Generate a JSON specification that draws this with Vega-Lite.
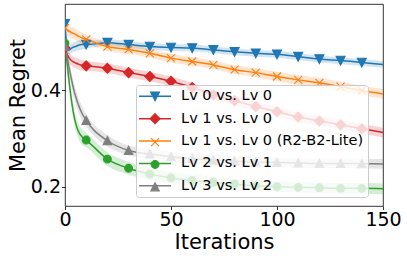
{
  "$schema": "https://vega.github.io/schema/vega-lite/v6.json",
  "width": 318,
  "height": 202,
  "autosize": {"type": "none"},
  "padding": {"left": 65, "top": 4, "right": 24, "bottom": 52},
  "background": "white",
  "config": {
    "view": {"stroke": "#000000", "strokeWidth": 0.8},
    "font": "DejaVu Sans",
    "axis": {
      "grid": false,
      "domain": false,
      "tickColor": "#000000",
      "tickWidth": 0.8,
      "tickSize": 3.5,
      "labelFont": "DejaVu Sans",
      "labelFontSize": 19,
      "labelColor": "#000000",
      "labelFlush": false,
      "labelPadding": 1,
      "titleFont": "DejaVu Sans",
      "titleFontSize": 21,
      "titleFontWeight": "normal",
      "titleColor": "#000000"
    }
  },
  "datasets": {
    "rows": [
      {"s": "Lv 0 vs. Lv 0", "x": 0, "y": 0.537, "lo": 0.523, "hi": 0.551},
      {"s": "Lv 0 vs. Lv 0", "x": 1, "y": 0.488, "lo": 0.476, "hi": 0.5},
      {"s": "Lv 0 vs. Lv 0", "x": 2, "y": 0.483, "lo": 0.473, "hi": 0.493},
      {"s": "Lv 0 vs. Lv 0", "x": 3, "y": 0.486, "lo": 0.476, "hi": 0.496},
      {"s": "Lv 0 vs. Lv 0", "x": 4, "y": 0.489, "lo": 0.479, "hi": 0.499},
      {"s": "Lv 0 vs. Lv 0", "x": 5, "y": 0.49, "lo": 0.48, "hi": 0.5},
      {"s": "Lv 0 vs. Lv 0", "x": 6, "y": 0.492, "lo": 0.482, "hi": 0.502},
      {"s": "Lv 0 vs. Lv 0", "x": 8, "y": 0.494, "lo": 0.484, "hi": 0.504},
      {"s": "Lv 0 vs. Lv 0", "x": 10, "y": 0.494, "lo": 0.486, "hi": 0.502},
      {"s": "Lv 0 vs. Lv 0", "x": 20, "y": 0.498, "lo": 0.491, "hi": 0.505},
      {"s": "Lv 0 vs. Lv 0", "x": 30, "y": 0.494, "lo": 0.487, "hi": 0.501},
      {"s": "Lv 0 vs. Lv 0", "x": 40, "y": 0.49, "lo": 0.483, "hi": 0.497},
      {"s": "Lv 0 vs. Lv 0", "x": 50, "y": 0.488, "lo": 0.481, "hi": 0.495},
      {"s": "Lv 0 vs. Lv 0", "x": 60, "y": 0.487, "lo": 0.48, "hi": 0.494},
      {"s": "Lv 0 vs. Lv 0", "x": 70, "y": 0.483, "lo": 0.476, "hi": 0.49},
      {"s": "Lv 0 vs. Lv 0", "x": 80, "y": 0.479, "lo": 0.472, "hi": 0.486},
      {"s": "Lv 0 vs. Lv 0", "x": 90, "y": 0.476, "lo": 0.469, "hi": 0.483},
      {"s": "Lv 0 vs. Lv 0", "x": 100, "y": 0.474, "lo": 0.467, "hi": 0.481},
      {"s": "Lv 0 vs. Lv 0", "x": 110, "y": 0.469, "lo": 0.462, "hi": 0.476},
      {"s": "Lv 0 vs. Lv 0", "x": 120, "y": 0.464, "lo": 0.457, "hi": 0.471},
      {"s": "Lv 0 vs. Lv 0", "x": 130, "y": 0.461, "lo": 0.454, "hi": 0.468},
      {"s": "Lv 0 vs. Lv 0", "x": 140, "y": 0.457, "lo": 0.45, "hi": 0.464},
      {"s": "Lv 0 vs. Lv 0", "x": 150, "y": 0.453, "lo": 0.446, "hi": 0.46},

      {"s": "Lv 1 vs. Lv 0", "x": 0, "y": 0.487, "lo": 0.475, "hi": 0.499},
      {"s": "Lv 1 vs. Lv 0", "x": 1, "y": 0.474, "lo": 0.463, "hi": 0.485},
      {"s": "Lv 1 vs. Lv 0", "x": 2, "y": 0.466, "lo": 0.455, "hi": 0.477},
      {"s": "Lv 1 vs. Lv 0", "x": 3, "y": 0.461, "lo": 0.45, "hi": 0.472},
      {"s": "Lv 1 vs. Lv 0", "x": 4, "y": 0.458, "lo": 0.447, "hi": 0.469},
      {"s": "Lv 1 vs. Lv 0", "x": 5, "y": 0.456, "lo": 0.445, "hi": 0.467},
      {"s": "Lv 1 vs. Lv 0", "x": 6, "y": 0.454, "lo": 0.443, "hi": 0.465},
      {"s": "Lv 1 vs. Lv 0", "x": 8, "y": 0.451, "lo": 0.44, "hi": 0.462},
      {"s": "Lv 1 vs. Lv 0", "x": 10, "y": 0.45, "lo": 0.44, "hi": 0.46},
      {"s": "Lv 1 vs. Lv 0", "x": 20, "y": 0.445, "lo": 0.435, "hi": 0.455},
      {"s": "Lv 1 vs. Lv 0", "x": 30, "y": 0.436, "lo": 0.426, "hi": 0.446},
      {"s": "Lv 1 vs. Lv 0", "x": 40, "y": 0.428, "lo": 0.418, "hi": 0.438},
      {"s": "Lv 1 vs. Lv 0", "x": 50, "y": 0.418, "lo": 0.408, "hi": 0.428},
      {"s": "Lv 1 vs. Lv 0", "x": 60, "y": 0.405, "lo": 0.395, "hi": 0.415},
      {"s": "Lv 1 vs. Lv 0", "x": 70, "y": 0.39, "lo": 0.38, "hi": 0.4},
      {"s": "Lv 1 vs. Lv 0", "x": 80, "y": 0.378, "lo": 0.368, "hi": 0.388},
      {"s": "Lv 1 vs. Lv 0", "x": 90, "y": 0.366, "lo": 0.356, "hi": 0.376},
      {"s": "Lv 1 vs. Lv 0", "x": 100, "y": 0.355, "lo": 0.345, "hi": 0.365},
      {"s": "Lv 1 vs. Lv 0", "x": 110, "y": 0.344, "lo": 0.334, "hi": 0.354},
      {"s": "Lv 1 vs. Lv 0", "x": 120, "y": 0.336, "lo": 0.326, "hi": 0.346},
      {"s": "Lv 1 vs. Lv 0", "x": 130, "y": 0.328, "lo": 0.318, "hi": 0.338},
      {"s": "Lv 1 vs. Lv 0", "x": 140, "y": 0.32, "lo": 0.31, "hi": 0.33},
      {"s": "Lv 1 vs. Lv 0", "x": 150, "y": 0.312, "lo": 0.302, "hi": 0.322},

      {"s": "Lv 1 vs. Lv 0 (R2-B2-Lite)", "x": 0, "y": 0.528, "lo": 0.514, "hi": 0.542},
      {"s": "Lv 1 vs. Lv 0 (R2-B2-Lite)", "x": 1, "y": 0.525, "lo": 0.513, "hi": 0.537},
      {"s": "Lv 1 vs. Lv 0 (R2-B2-Lite)", "x": 2, "y": 0.522, "lo": 0.51, "hi": 0.534},
      {"s": "Lv 1 vs. Lv 0 (R2-B2-Lite)", "x": 3, "y": 0.519, "lo": 0.507, "hi": 0.531},
      {"s": "Lv 1 vs. Lv 0 (R2-B2-Lite)", "x": 4, "y": 0.517, "lo": 0.505, "hi": 0.529},
      {"s": "Lv 1 vs. Lv 0 (R2-B2-Lite)", "x": 5, "y": 0.515, "lo": 0.503, "hi": 0.527},
      {"s": "Lv 1 vs. Lv 0 (R2-B2-Lite)", "x": 6, "y": 0.512, "lo": 0.5, "hi": 0.524},
      {"s": "Lv 1 vs. Lv 0 (R2-B2-Lite)", "x": 8, "y": 0.508, "lo": 0.497, "hi": 0.519},
      {"s": "Lv 1 vs. Lv 0 (R2-B2-Lite)", "x": 10, "y": 0.505, "lo": 0.495, "hi": 0.515},
      {"s": "Lv 1 vs. Lv 0 (R2-B2-Lite)", "x": 20, "y": 0.49, "lo": 0.481, "hi": 0.499},
      {"s": "Lv 1 vs. Lv 0 (R2-B2-Lite)", "x": 30, "y": 0.484, "lo": 0.475, "hi": 0.493},
      {"s": "Lv 1 vs. Lv 0 (R2-B2-Lite)", "x": 40, "y": 0.476, "lo": 0.467, "hi": 0.485},
      {"s": "Lv 1 vs. Lv 0 (R2-B2-Lite)", "x": 50, "y": 0.466, "lo": 0.457, "hi": 0.475},
      {"s": "Lv 1 vs. Lv 0 (R2-B2-Lite)", "x": 60, "y": 0.459, "lo": 0.45, "hi": 0.468},
      {"s": "Lv 1 vs. Lv 0 (R2-B2-Lite)", "x": 70, "y": 0.452, "lo": 0.443, "hi": 0.461},
      {"s": "Lv 1 vs. Lv 0 (R2-B2-Lite)", "x": 80, "y": 0.442, "lo": 0.433, "hi": 0.451},
      {"s": "Lv 1 vs. Lv 0 (R2-B2-Lite)", "x": 90, "y": 0.436, "lo": 0.427, "hi": 0.445},
      {"s": "Lv 1 vs. Lv 0 (R2-B2-Lite)", "x": 100, "y": 0.428, "lo": 0.418, "hi": 0.438},
      {"s": "Lv 1 vs. Lv 0 (R2-B2-Lite)", "x": 110, "y": 0.421, "lo": 0.411, "hi": 0.431},
      {"s": "Lv 1 vs. Lv 0 (R2-B2-Lite)", "x": 120, "y": 0.415, "lo": 0.405, "hi": 0.425},
      {"s": "Lv 1 vs. Lv 0 (R2-B2-Lite)", "x": 130, "y": 0.407, "lo": 0.397, "hi": 0.417},
      {"s": "Lv 1 vs. Lv 0 (R2-B2-Lite)", "x": 140, "y": 0.399, "lo": 0.389, "hi": 0.409},
      {"s": "Lv 1 vs. Lv 0 (R2-B2-Lite)", "x": 150, "y": 0.392, "lo": 0.382, "hi": 0.402},

      {"s": "Lv 2 vs. Lv 1", "x": 0, "y": 0.497, "lo": 0.485, "hi": 0.509},
      {"s": "Lv 2 vs. Lv 1", "x": 1, "y": 0.455, "lo": 0.439, "hi": 0.471},
      {"s": "Lv 2 vs. Lv 1", "x": 2, "y": 0.415, "lo": 0.399, "hi": 0.431},
      {"s": "Lv 2 vs. Lv 1", "x": 3, "y": 0.38, "lo": 0.364, "hi": 0.396},
      {"s": "Lv 2 vs. Lv 1", "x": 4, "y": 0.352, "lo": 0.336, "hi": 0.368},
      {"s": "Lv 2 vs. Lv 1", "x": 5, "y": 0.332, "lo": 0.316, "hi": 0.348},
      {"s": "Lv 2 vs. Lv 1", "x": 6, "y": 0.318, "lo": 0.302, "hi": 0.334},
      {"s": "Lv 2 vs. Lv 1", "x": 8, "y": 0.303, "lo": 0.287, "hi": 0.319},
      {"s": "Lv 2 vs. Lv 1", "x": 10, "y": 0.2965, "lo": 0.2815, "hi": 0.3115},
      {"s": "Lv 2 vs. Lv 1", "x": 20, "y": 0.257, "lo": 0.243, "hi": 0.271},
      {"s": "Lv 2 vs. Lv 1", "x": 30, "y": 0.238, "lo": 0.225, "hi": 0.251},
      {"s": "Lv 2 vs. Lv 1", "x": 40, "y": 0.226, "lo": 0.214, "hi": 0.238},
      {"s": "Lv 2 vs. Lv 1", "x": 50, "y": 0.218, "lo": 0.206, "hi": 0.23},
      {"s": "Lv 2 vs. Lv 1", "x": 60, "y": 0.213, "lo": 0.201, "hi": 0.225},
      {"s": "Lv 2 vs. Lv 1", "x": 70, "y": 0.209, "lo": 0.197, "hi": 0.221},
      {"s": "Lv 2 vs. Lv 1", "x": 80, "y": 0.205, "lo": 0.194, "hi": 0.216},
      {"s": "Lv 2 vs. Lv 1", "x": 90, "y": 0.202, "lo": 0.191, "hi": 0.213},
      {"s": "Lv 2 vs. Lv 1", "x": 100, "y": 0.2, "lo": 0.189, "hi": 0.211},
      {"s": "Lv 2 vs. Lv 1", "x": 110, "y": 0.1986, "lo": 0.1876, "hi": 0.2096},
      {"s": "Lv 2 vs. Lv 1", "x": 120, "y": 0.1977, "lo": 0.1867, "hi": 0.2087},
      {"s": "Lv 2 vs. Lv 1", "x": 130, "y": 0.1965, "lo": 0.1855, "hi": 0.2075},
      {"s": "Lv 2 vs. Lv 1", "x": 140, "y": 0.1965, "lo": 0.1855, "hi": 0.2075},
      {"s": "Lv 2 vs. Lv 1", "x": 150, "y": 0.1955, "lo": 0.1845, "hi": 0.2065},

      {"s": "Lv 3 vs. Lv 2", "x": 0, "y": 0.49, "lo": 0.478, "hi": 0.502},
      {"s": "Lv 3 vs. Lv 2", "x": 1, "y": 0.468, "lo": 0.453, "hi": 0.483},
      {"s": "Lv 3 vs. Lv 2", "x": 2, "y": 0.445, "lo": 0.43, "hi": 0.46},
      {"s": "Lv 3 vs. Lv 2", "x": 3, "y": 0.423, "lo": 0.408, "hi": 0.438},
      {"s": "Lv 3 vs. Lv 2", "x": 4, "y": 0.403, "lo": 0.388, "hi": 0.418},
      {"s": "Lv 3 vs. Lv 2", "x": 5, "y": 0.387, "lo": 0.372, "hi": 0.402},
      {"s": "Lv 3 vs. Lv 2", "x": 6, "y": 0.373, "lo": 0.358, "hi": 0.388},
      {"s": "Lv 3 vs. Lv 2", "x": 8, "y": 0.352, "lo": 0.337, "hi": 0.367},
      {"s": "Lv 3 vs. Lv 2", "x": 10, "y": 0.337, "lo": 0.324, "hi": 0.35},
      {"s": "Lv 3 vs. Lv 2", "x": 20, "y": 0.295, "lo": 0.283, "hi": 0.307},
      {"s": "Lv 3 vs. Lv 2", "x": 30, "y": 0.275, "lo": 0.265, "hi": 0.285},
      {"s": "Lv 3 vs. Lv 2", "x": 40, "y": 0.2675, "lo": 0.2575, "hi": 0.2775},
      {"s": "Lv 3 vs. Lv 2", "x": 50, "y": 0.262, "lo": 0.252, "hi": 0.272},
      {"s": "Lv 3 vs. Lv 2", "x": 60, "y": 0.258, "lo": 0.248, "hi": 0.268},
      {"s": "Lv 3 vs. Lv 2", "x": 70, "y": 0.255, "lo": 0.245, "hi": 0.265},
      {"s": "Lv 3 vs. Lv 2", "x": 80, "y": 0.253, "lo": 0.243, "hi": 0.263},
      {"s": "Lv 3 vs. Lv 2", "x": 90, "y": 0.251, "lo": 0.241, "hi": 0.261},
      {"s": "Lv 3 vs. Lv 2", "x": 100, "y": 0.25, "lo": 0.24, "hi": 0.26},
      {"s": "Lv 3 vs. Lv 2", "x": 110, "y": 0.249, "lo": 0.239, "hi": 0.259},
      {"s": "Lv 3 vs. Lv 2", "x": 120, "y": 0.248, "lo": 0.238, "hi": 0.258},
      {"s": "Lv 3 vs. Lv 2", "x": 130, "y": 0.248, "lo": 0.238, "hi": 0.258},
      {"s": "Lv 3 vs. Lv 2", "x": 140, "y": 0.2475, "lo": 0.2375, "hi": 0.2575},
      {"s": "Lv 3 vs. Lv 2", "x": 150, "y": 0.247, "lo": 0.237, "hi": 0.257}
    ]
  },
  "data": {"name": "rows"},
  "encoding": {
    "x": {
      "field": "x", "type": "quantitative",
      "scale": {"domain": [0, 150], "nice": false, "zero": false},
      "axis": {"values": [0, 50, 100, 150], "title": "Iterations", "titlePadding": 2}
    },
    "y": {
      "field": "y", "type": "quantitative",
      "scale": {"domain": [0.16, 0.578], "nice": false, "zero": false},
      "axis": {"values": [0.2, 0.4], "format": ".1f", "title": "Mean Regret", "titlePadding": 2}
    }
  },
  "layer": [
    {
      "transform": [{"filter": "datum.s === 'Lv 0 vs. Lv 0'"}],
      "mark": {"type": "area", "color": "#1f77b4", "opacity": 0.2, "interpolate": "monotone", "clip": true},
      "encoding": {"y": {"field": "lo", "type": "quantitative"}, "y2": {"field": "hi"}}
    },
    {
      "transform": [{"filter": "datum.s === 'Lv 1 vs. Lv 0'"}],
      "mark": {"type": "area", "color": "#d62728", "opacity": 0.2, "interpolate": "monotone", "clip": true},
      "encoding": {"y": {"field": "lo", "type": "quantitative"}, "y2": {"field": "hi"}}
    },
    {
      "transform": [{"filter": "datum.s === 'Lv 1 vs. Lv 0 (R2-B2-Lite)'"}],
      "mark": {"type": "area", "color": "#ff7f0e", "opacity": 0.2, "interpolate": "monotone", "clip": true},
      "encoding": {"y": {"field": "lo", "type": "quantitative"}, "y2": {"field": "hi"}}
    },
    {
      "transform": [{"filter": "datum.s === 'Lv 2 vs. Lv 1'"}],
      "mark": {"type": "area", "color": "#2ca02c", "opacity": 0.2, "interpolate": "monotone", "clip": true},
      "encoding": {"y": {"field": "lo", "type": "quantitative"}, "y2": {"field": "hi"}}
    },
    {
      "transform": [{"filter": "datum.s === 'Lv 3 vs. Lv 2'"}],
      "mark": {"type": "area", "color": "#7f7f7f", "opacity": 0.2, "interpolate": "monotone", "clip": true},
      "encoding": {"y": {"field": "lo", "type": "quantitative"}, "y2": {"field": "hi"}}
    },
    {
      "mark": {"type": "line", "strokeWidth": 1.5, "interpolate": "monotone", "clip": true},
      "encoding": {
        "color": {
          "field": "s", "type": "nominal",
          "scale": {
            "domain": ["Lv 0 vs. Lv 0", "Lv 1 vs. Lv 0", "Lv 1 vs. Lv 0 (R2-B2-Lite)", "Lv 2 vs. Lv 1", "Lv 3 vs. Lv 2"],
            "range": ["#1f77b4", "#d62728", "#ff7f0e", "#2ca02c", "#7f7f7f"]
          },
          "legend": {
            "title": null,
            "orient": "none",
            "direction": "vertical",
            "legendX": 71,
            "legendY": 81,
            "padding": 4,
            "symbolOffset": 7.8,
            "labelOffset": 18.8,
            "rowPadding": 7.4,
            "labelFont": "DejaVu Sans",
            "labelFontSize": 14.5,
            "labelColor": "#000000",
            "labelLimit": 400,
            "fillColor": "rgba(255,255,255,0.8)",
            "strokeColor": "#cccccc",
            "cornerRadius": 3,
            "symbolType": "M-3.2,0H3.2",
            "symbolSize": 100,
            "symbolStrokeWidth": 1.5,
            "symbolOpacity": 1
          }
        }
      }
    },
    {
      "transform": [{"filter": "datum.x % 10 === 0 && datum.x < 150"}],
      "mark": {"type": "point", "filled": true, "size": 100, "opacity": 1, "strokeWidth": 1.1, "clip": true},
      "encoding": {
        "fill": {
          "field": "s", "type": "nominal",
          "scale": {"range": ["#1f77b4", "#d62728", "#ff7f0e", "#2ca02c", "#7f7f7f"]},
          "legend": {
            "title": null,
            "orient": "none",
            "direction": "vertical",
            "legendX": 71,
            "legendY": 81,
            "padding": 4,
            "symbolOffset": 7.8,
            "labelOffset": 18.8,
            "rowPadding": 7.4,
            "labelFont": "DejaVu Sans",
            "labelFontSize": 14.5,
            "labelOpacity": 0,
            "labelLimit": 400,
            "symbolSize": 100,
            "symbolStrokeWidth": 1.1,
            "symbolOpacity": 1
          }
        },
        "stroke": {
          "field": "s", "type": "nominal",
          "scale": {"range": ["#1f77b4", "#d62728", "#ff7f0e", "#2ca02c", "#7f7f7f"]}
        },
        "shape": {
          "field": "s", "type": "nominal",
          "scale": {
            "range": [
              "M-0.9,-0.85H0.9L0,0.9Z",
              "M0,-1L1,0L0,1L-1,0Z",
              "M-0.8,-0.8L0.8,0.8M-0.8,0.8L0.8,-0.8",
              "M0.78,0A0.78,0.78,0,1,1,-0.78,0A0.78,0.78,0,1,1,0.78,0Z",
              "M-0.85,0.8H0.85L0,-0.85Z"
            ]
          }
        }
      }
    }
  ]
}
